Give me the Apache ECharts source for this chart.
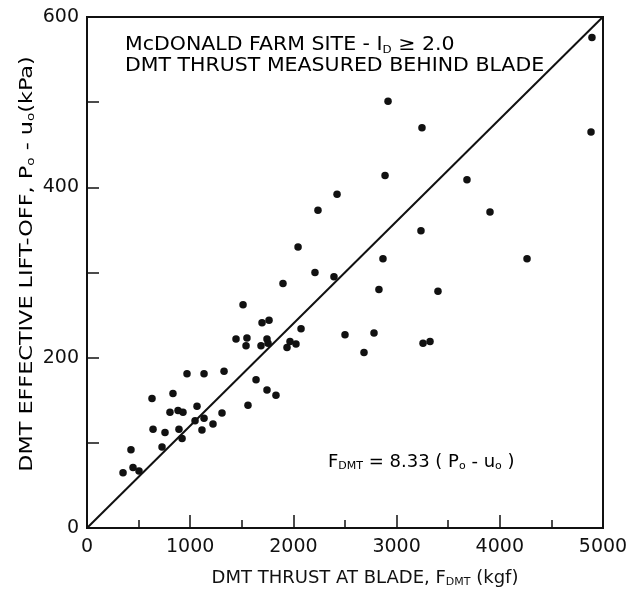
<!DOCTYPE html>
<html>
<head>
<meta charset="utf-8">
<script src="https://cdn.jsdelivr.net/npm/echarts@6/dist/echarts.min.js"></script>
<style>
  html, body { margin: 0; padding: 0; background: #fff; }
  #chart { width: 634px; height: 593px; }
</style>
</head>
<body>
<div id="chart"></div>
<script>
// DMT thrust at blade (kgf) and effective lift-off pressure (kPa), McDonald Farm site
const thrust = [
  4893, 4884, 2917, 3246, 2888, 3682, 3905, 3236, 2868, 4264,
  2829, 3401, 2500, 2781, 2684, 3256, 3324, 2423, 2238, 2045,
  2209, 2393, 1899, 1512, 1696, 1764, 1444, 1550, 1541, 1744,
  1686, 1754, 2074, 1938, 1967, 2025, 969, 1134, 1328, 1638,
  1744, 1831, 1560, 630, 833, 804, 882, 930, 1066, 1308,
  1134, 1047, 640, 756, 891, 1114, 1221, 921, 727, 426,
  349, 446, 504
];
const liftOff = [
  576, 465, 501, 470, 414, 409, 371, 349, 316, 316,
  280, 278, 227, 229, 206, 217, 219, 392, 373, 330,
  300, 295, 287, 262, 241, 244, 222, 223, 214, 222,
  214, 217, 234, 212, 219, 216, 181, 181, 184, 174,
  162, 156, 144, 152, 158, 136, 138, 136, 143, 135,
  129, 126, 116, 112, 116, 115, 122, 105, 95, 92,
  65, 71, 67
];
// Correlation line F_DMT = 8.33 (P0 - u0)
const slope = 8.33;
const yMax = 600;
const xTicks = [0, 1000, 2000, 3000, 4000, 5000];
const yTicks = [0, 200, 400, 600];

const points = thrust.map((x, i) => [x, liftOff[i]]);
const fitLine = [[0, 0], [slope * yMax, yMax]];

const FONT = 'DejaVu Sans';
const INK = '#111';
const subStyle = { fontFamily: FONT, fontSize: 11, color: INK, verticalAlign: 'bottom', lineHeight: 6 };
const mainStyle = { fontFamily: FONT, fontSize: 18, color: INK, lineHeight: 20 };

const chart = echarts.init(document.getElementById('chart'), null, { renderer: 'canvas' });
chart.setOption({
  backgroundColor: '#fff',
  animation: false,
  grid: {
    left: 87, right: 31, top: 17, bottom: 60,
    show: true, borderColor: INK, borderWidth: 2, backgroundColor: 'transparent'
  },
  xAxis: {
    type: 'value', min: xTicks[0], max: xTicks[xTicks.length - 1], interval: 1000,
    axisLine: { lineStyle: { color: INK, width: 2 } },
    axisTick: { inside: true, length: 13, lineStyle: { color: INK, width: 1.5 } },
    minorTick: { show: true, splitNumber: 2, length: 8, lineStyle: { color: INK, width: 1.5 } },
    splitLine: { show: false },
    axisLabel: { fontFamily: FONT, fontSize: 19, color: INK, margin: 10, formatter: v => String(v) },
    name: '{n|DMT THRUST AT BLADE, F}{s|DMT}{n| (kgf)}',
    nameLocation: 'middle', nameGap: 40,
    nameTextStyle: { rich: { n: mainStyle, s: subStyle }, padding: [0, 0, 0, 40] }
  },
  yAxis: {
    type: 'value', min: yTicks[0], max: yTicks[yTicks.length - 1], interval: 200,
    axisLine: { lineStyle: { color: INK, width: 2 } },
    axisTick: { inside: true, length: 12, lineStyle: { color: INK, width: 1.5 } },
    minorTick: { show: true, splitNumber: 2, length: 12, lineStyle: { color: INK, width: 1.5 } },
    splitLine: { show: false },
    axisLabel: { fontFamily: FONT, fontSize: 19, color: INK, margin: 8, formatter: v => String(v) }
  },
  graphic: [
    {
      // vertical axis title, lettering stretched along its length
      type: 'text', x: 27, y: 264, rotation: Math.PI / 2, scaleX: 1.24,
      style: {
        text: '{n|DMT EFFECTIVE LIFT-OFF, P}{s|o}{n| - u}{s|o}{n|(kPa)}',
        rich: { n: mainStyle, s: subStyle },
        align: 'center', verticalAlign: 'middle'
      }
    },
    {
      type: 'text', x: 125, y: 35, scaleX: 1.08,
      style: {
        text: '{n|McDONALD FARM SITE - I}{s|D}{n| ≥ 2.0}\n{n|DMT THRUST MEASURED BEHIND BLADE}',
        rich: { n: { ...mainStyle, fontSize: 19, lineHeight: 21 }, s: subStyle }
      }
    },
    {
      type: 'text', x: 328, y: 452,
      style: {
        text: '{n|F}{s|DMT}{n| = 8.33 ( P}{s|o}{n| - u}{s|o}{n| )}',
        rich: { n: mainStyle, s: subStyle }
      }
    }
  ],
  series: [
    {
      type: 'line', data: fitLine, showSymbol: false, symbol: 'none',
      lineStyle: { color: INK, width: 2 }, silent: true, z: 2
    },
    {
      type: 'scatter', data: points, symbol: 'circle', symbolSize: 7.5,
      itemStyle: { color: INK, opacity: 1 }, z: 3
    }
  ]
});
</script>
</body>
</html>
